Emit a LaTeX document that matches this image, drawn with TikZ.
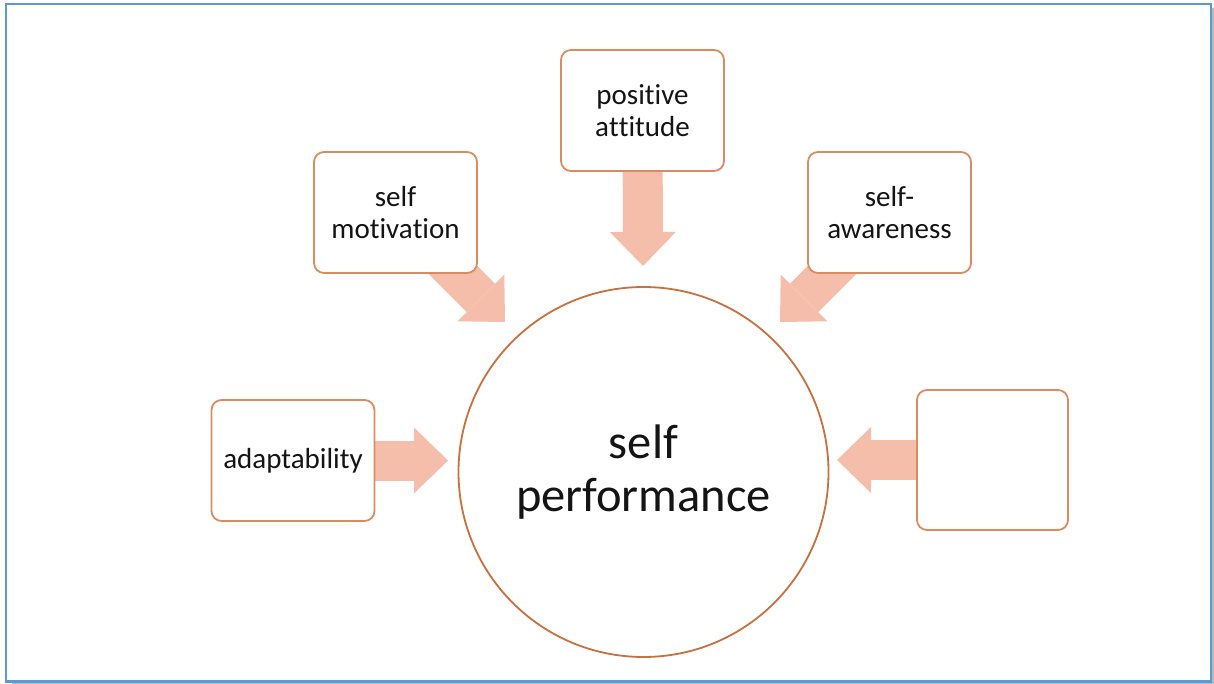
\documentclass[tikz,border=0pt]{standalone}
\usepackage{fontspec}
\setmainfont{Carlito}[Ligatures={NoCommon,NoContextual}]
\usetikzlibrary{arrows.meta,backgrounds}
\definecolor{framecol}{RGB}{91,155,213}
\definecolor{boxline}{RGB}{219,140,95}
\definecolor{ringline}{RGB}{200,112,62}
\definecolor{arrowfill}{RGB}{244,190,170}
\definecolor{textcol}{RGB}{20,20,20}
\newcommand\tee{\mbox{t}}
\tikzset{
  factor/.style={draw=boxline, line width=1.8pt, fill=white, rounded corners=10pt,
    minimum width=163pt, minimum height=121pt, align=center, text=textcol,
    font=\fontsize{29}{32}\selectfont},
  core/.style={circle, draw=ringline, line width=1.8pt, fill=white, minimum size=370pt,
    align=center, text=textcol, font=\fontsize{48.5}{53}\selectfont},
  push/.style={draw=arrowfill, line width=40pt,
    -{Triangle[length=34pt,width=66pt,line width=0pt]}},
}
\begin{document}
\begin{tikzpicture}[x=1pt,y=-1pt]
      \useasboundingbox (0,0) rectangle (1214,684);
      % frame
      \draw[gray!55, line width=2.5pt] (12,683) -- (1213,683) -- (1213,8);
      \draw[framecol, line width=2.6pt] (6,4) rectangle (1211,681.5);
      % nodes
      \node[core] (perf) at (643.5,472) {self\\performance};
      \node[factor] (attitude) at (642.5,110.5) {posi\tee ive\\a\tee\tee i\tee ude};
      \node[factor] (motiv) at (395.5,212.5) {self\\mo\tee iva\tee ion};
      \node[factor] (aware) at (889.5,212.5) {self-\\awareness};
      \node[factor] (adapt) at (293,460.5) {adaptability};
      \node[factor, minimum width=151pt, minimum height=140pt] (blank) at (992.5,460) {};
      % arrow tips
      \coordinate (tA) at (643,266);
      \coordinate (tM) at (505,322);
      \coordinate (tW) at (780,322);
      \coordinate (tD) at (448,460.5);
      \coordinate (tB) at (837,460);
      \begin{scope}[on background layer]
        \draw[push] (attitude.center) to (tA);
        \draw[push] (motiv.center) to (tM);
        \draw[push] (aware.center) to (tW);
        \draw[push] (adapt.center) to (tD);
        \draw[push] (blank.center) to (tB);
      \end{scope}
    \end{tikzpicture}
\end{document}
